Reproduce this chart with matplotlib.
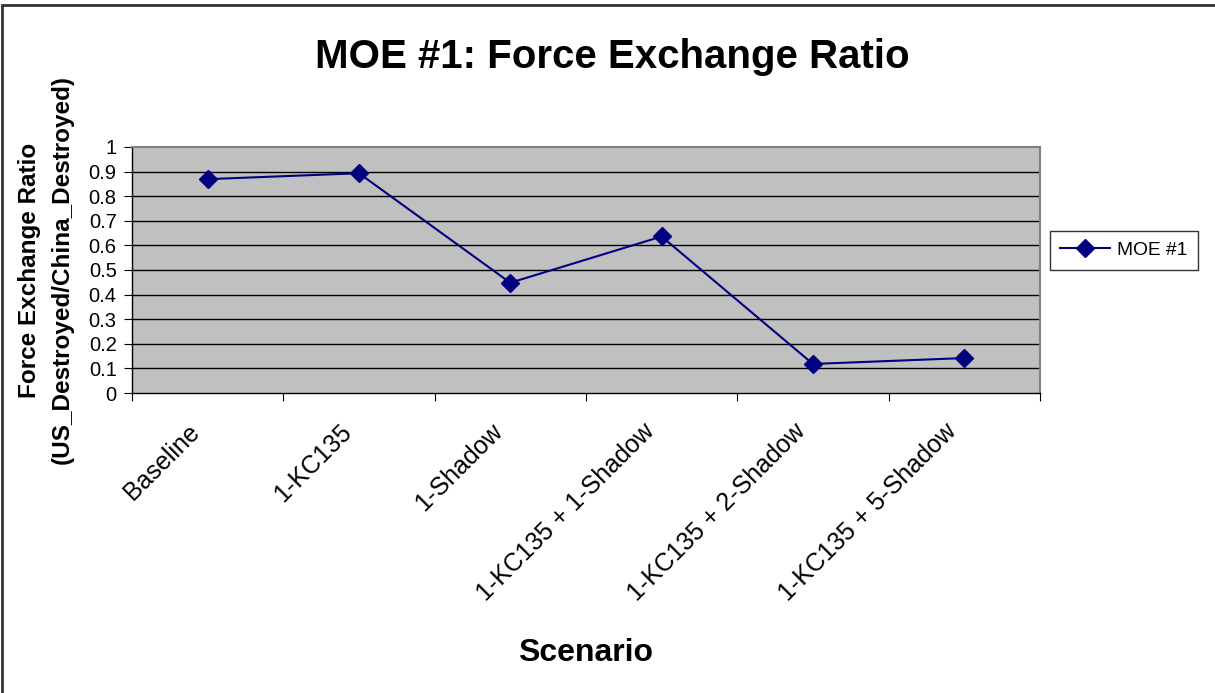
import matplotlib.pyplot as plt
from matplotlib.patches import Rectangle
import matplotlib.transforms as mtransforms

# data
scenarios = ['Baseline', '1-KC135', '1-Shadow', '1-KC135 + 1-Shadow',
             '1-KC135 + 2-Shadow', '1-KC135 + 5-Shadow']
moe1 = [0.869, 0.893, 0.448, 0.636, 0.118, 0.142]
yticks = [0, 0.1, 0.2, 0.3, 0.4, 0.5, 0.6, 0.7, 0.8, 0.9, 1]
ytick_labels = ['0', '0.1', '0.2', '0.3', '0.4', '0.5', '0.6', '0.7', '0.8', '0.9', '1']

plt.rcParams['font.family'] = ['Liberation Sans', 'DejaVu Sans']

fig = plt.figure(figsize=(12.15, 6.93), dpi=100)
ax = fig.add_axes([0.1086, 0.4329, 0.7473, 0.3551])

# outer chart frame (only left and top edges fall inside the image)
fig.patches.append(Rectangle((0.002, -0.05), 1.1, 1.0428,
                             transform=fig.transFigure, fill=False,
                             edgecolor='#333333', linewidth=2, zorder=0))

x = list(range(len(scenarios)))
ax.set_facecolor('#C0C0C0')
for t in yticks[1:-1]:
    ax.axhline(t, color='black', linewidth=1, zorder=1)
ax.plot(x, moe1, color='#000080', marker='D', markersize=9, linewidth=1.5,
        label='MOE #1', zorder=3)

ax.set_xlim(-0.5, len(scenarios) - 0.5)
ax.set_ylim(0, 1)
ax.set_yticks(yticks)
ax.set_yticklabels(ytick_labels, fontsize=14.5)
ax.set_xticks([i - 0.5 for i in range(len(scenarios) + 1)])
ax.set_xticklabels([])
ax.set_xticks(x, minor=True)
ax.set_xticklabels(scenarios, minor=True, rotation=45, ha='right',
                   rotation_mode='anchor', fontsize=18)
ax.tick_params(axis='x', which='minor', length=0, pad=19)
ax.tick_params(axis='x', which='major', direction='out', length=6, color='black')
ax.tick_params(axis='y', direction='out', length=6, color='black', pad=5)
shift = mtransforms.ScaledTranslation(-20 / 100, 0, fig.dpi_scale_trans)
for lbl in ax.get_xticklabels(minor=True):
    lbl.set_transform(lbl.get_transform() + shift)

for side in ['top', 'right']:
    ax.spines[side].set_color('#808080')
    ax.spines[side].set_linewidth(1.5)
for side in ['left', 'bottom']:
    ax.spines[side].set_color('black')
    ax.spines[side].set_linewidth(1)

fig.text(0.504, 0.9176, 'MOE #1: Force Exchange Ratio', fontsize=29,
         fontweight='bold', ha='center', va='center')
ax.set_ylabel('Force Exchange Ratio\n(US_Destroyed/China_Destroyed)',
              fontsize=17.5, fontweight='bold', linespacing=1.55)
ax.yaxis.set_label_coords(-0.064, 0.5)
ax.set_xlabel('Scenario', fontsize=23, fontweight='bold')
ax.xaxis.set_label_coords(0.5, -0.995)

leg = ax.legend(loc='center left', bbox_to_anchor=(1.011, 0.58), fontsize=13.8,
                frameon=True, fancybox=False, edgecolor='black',
                handlelength=2.6, handletextpad=0.35, borderpad=0.55,
                borderaxespad=0)
leg.get_frame().set_linewidth(1)

fig.savefig('out.png', dpi=100, facecolor='white')
